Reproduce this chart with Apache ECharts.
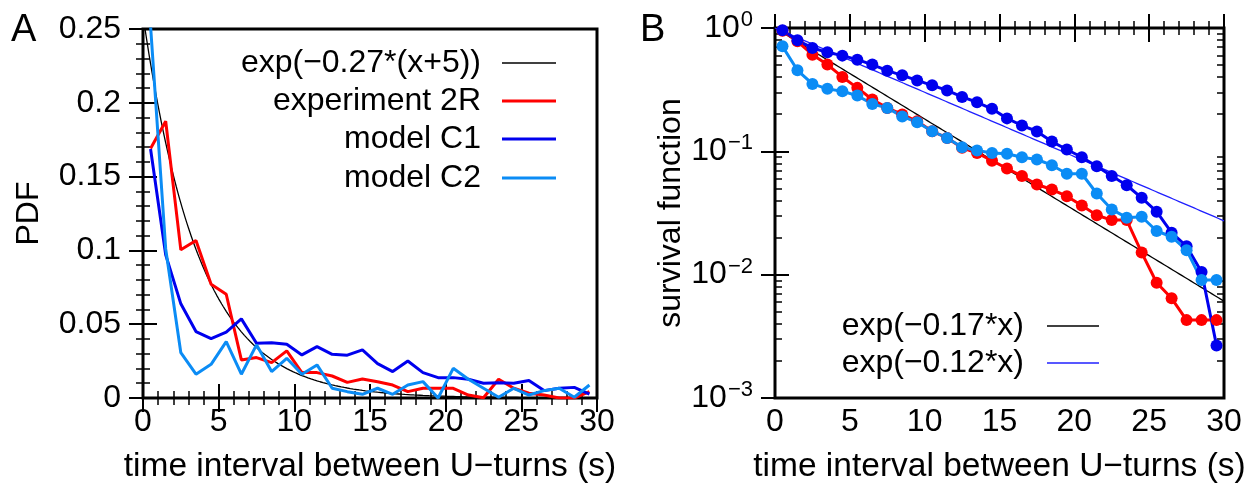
<!DOCTYPE html>
<html>
<head>
<meta charset="utf-8">
<script src="https://cdn.jsdelivr.net/npm/echarts@6/dist/echarts.min.js"></script>
<style>html,body{margin:0;padding:0;background:#fff}#c{width:1259px;height:489px}</style>
</head>
<body>
<div id="c"></div>
<script>
// ---- Panel A: PDF of time interval between U-turns ----
const binCentersA = [0.5,1.5,2.5,3.5,4.5,5.5,6.5,7.5,8.5,9.5,10.5,11.5,12.5,13.5,14.5,15.5,16.5,17.5,18.5,19.5,20.5,21.5,22.5,23.5,24.5,25.5,26.5,27.5,28.5,29.5];
const pdfExperiment2R = [0.169,0.1875,0.1004,0.1067,0.0771,0.0703,0.0258,0.0274,0.024,0.0319,0.0172,0.0172,0.0149,0.0106,0.0129,0.011,0.0088,0.0043,0.0066,0.0066,0.0066,0.002,0.0002,0.0127,0.0066,0.0032,0.002,0,0,0.0043];
const pdfModelC1 = [0.1687,0.097,0.0638,0.045,0.0402,0.0446,0.0536,0.0371,0.0375,0.0364,0.0292,0.0348,0.0296,0.029,0.0326,0.0233,0.0179,0.0251,0.0172,0.0138,0.0138,0.0127,0.00995,0.0104,0.00995,0.0118,0.005,0.0066,0.0072,0.0027];
const pdfModelC2 = [0.252,0.101,0.0307,0.0161,0.0228,0.0382,0.0161,0.036,0.0179,0.0269,0.0161,0.0224,0.0066,0.0043,0.0025,0.0066,0.0025,0.0088,0.0111,0,0.0201,0.0127,0.0066,0.0005,0.0066,0.002,0.005,0.0066,0.0005,0.0088];
const fitA = {rate: 0.27, shift: 5, label: 'exp(\u22120.27*(x+5))'};

// ---- Panel B: survival function ----
const survX = [0.5,1.5,2.5,3.5,4.5,5.5,6.5,7.5,8.5,9.5,10.5,11.5,12.5,13.5,14.5,15.5,16.5,17.5,18.5,19.5,20.5,21.5,22.5,23.5,24.5,25.5,26.5,27.5,28.5,29.5];
const survExperiment2R = [0.95,0.78,0.608,0.505,0.401,0.327,0.263,0.225,0.199,0.175,0.1455,0.1285,0.1067,0.097,0.084,0.0726,0.063,0.0538,0.049,0.0433,0.0364,0.0303,0.0277,0.0277,0.0151,0.0086,0.00643,0.00428,0.00428,0.00428];
const survModelC1 = [0.957,0.794,0.689,0.635,0.597,0.554,0.505,0.451,0.413,0.376,0.343,0.312,0.276,0.25,0.221,0.185,0.162,0.145,0.12,0.1035,0.0896,0.0758,0.063,0.0531,0.042,0.0324,0.0219,0.017,0.0105,0.00267];
const survModelC2 = [0.71,0.454,0.352,0.321,0.307,0.283,0.242,0.225,0.192,0.172,0.1455,0.1285,0.108,0.1015,0.097,0.0955,0.0896,0.0859,0.0772,0.0658,0.0658,0.0455,0.0338,0.029,0.0295,0.0226,0.0203,0.0158,0.00904,0.00904];
const fitB1 = {rate: 0.17, label: 'exp(\u22120.17*x)'};
const fitB2 = {rate: 0.12, label: 'exp(\u22120.12*x)'};
const logExponents = [-3, -2, -1, 0];

const FONT = 'Liberation Sans';
const FS = 32;
const RED = '#ff0000', DBLUE = '#0000ee', LBLUE = '#0b8cf5', FITBLUE = '#2020ff';

function pairs(xs, ys){ return xs.map((x,i)=>[x, ys[i]]); }
function curve(f){ const out=[]; for(let i=0;i<=300;i++){ const x=i*0.1; out.push([x, f(x)]); } return out; }

// minor log ticks in log10 space
const minorLogTicks = [];
logExponents.slice(0,-1).forEach(e=>{ for(let m=2;m<=9;m++) minorLogTicks.push(e + Math.log10(m)); });

const tickMajor = {show:true, inside:true, length:14, lineStyle:{color:'#000', width:2}};
const tickMinor = {show:true, splitNumber:5, length:7, lineStyle:{color:'#000', width:1.5}};
const lbl = {color:'#000', fontSize:FS, fontFamily:FONT};

function xAx(grid, pos, labels, name){
  return {
    type:'value', gridIndex:grid, position:pos, min:0, max:30, interval:5,
    axisLine:{show:false}, axisTick:tickMajor, minorTick:tickMinor, splitLine:{show:false}, minorSplitLine:{show:false},
    axisLabel: labels ? Object.assign({margin:8}, lbl) : {show:false},
    name: name || '', nameLocation:'middle', nameGap:52,
    nameTextStyle:{color:'#000', fontSize:33.5, fontFamily:FONT}
  };
}

const chart = echarts.init(document.getElementById('c'), null, {renderer:'canvas'});
chart.setOption({
  animation:false,
  backgroundColor:'#fff',
  grid:[
    {left:143, top:29, width:454, height:369, show:true, borderColor:'#000', borderWidth:3, backgroundColor:'transparent'},
    {left:775, top:28, width:449, height:370, show:true, borderColor:'#000', borderWidth:3, backgroundColor:'transparent'}
  ],
  xAxis:[
    xAx(0,'bottom',true,'time interval between U\u2212turns (s)'),
    xAx(0,'top',false),
    xAx(1,'bottom',true,'time interval between U\u2212turns (s)'),
    xAx(1,'top',false)
  ],
  yAxis:[
    {type:'value', gridIndex:0, position:'left', min:0, max:0.25, interval:0.05,
     axisLine:{show:false}, axisTick:tickMajor, minorTick:tickMinor, splitLine:{show:false},
     axisLabel:Object.assign({margin:22}, lbl),
     name:'PDF', nameLocation:'middle', nameGap:98, nameRotate:90,
     nameTextStyle:{color:'#000', fontSize:FS, fontFamily:FONT}},
    {type:'value', gridIndex:0, position:'right', min:0, max:0.25, interval:0.05,
     axisLine:{show:false}, axisTick:tickMajor, minorTick:tickMinor, splitLine:{show:false}, axisLabel:{show:false}},
    {type:'log', gridIndex:1, position:'left', min:0.001, max:1, logBase:10,
     axisLine:{show:false}, axisTick:tickMajor, splitLine:{show:false}, minorTick:{show:false},
     axisLabel:{margin:22, color:'#000', fontFamily:FONT,
       formatter:function(v){ const e=Math.round(Math.log10(v)); return '{b|10}{s|'+(e<0?'\u2212'+(-e):e)+'}'; },
       rich:{ b:{fontSize:FS, fontFamily:FONT, color:'#000'}, s:{fontSize:22, fontFamily:FONT, color:'#000', padding:[0,0,16,1]} }},
     name:'survival function', nameLocation:'middle', nameGap:88, nameRotate:90,
     nameTextStyle:{color:'#000', fontSize:FS, fontFamily:FONT}},
    {type:'log', gridIndex:1, position:'right', min:0.001, max:1, logBase:10,
     axisLine:{show:false}, axisTick:tickMajor, splitLine:{show:false}, minorTick:{show:false}, axisLabel:{show:false}},
    {type:'value', gridIndex:1, position:'left', min:-3, max:0,
     axisLine:{show:false}, splitLine:{show:false}, axisLabel:{show:false},
     axisTick:{show:true, inside:true, length:7, customValues:minorLogTicks, lineStyle:{color:'#000', width:1.5}}},
    {type:'value', gridIndex:1, position:'right', min:-3, max:0,
     axisLine:{show:false}, splitLine:{show:false}, axisLabel:{show:false},
     axisTick:{show:true, inside:true, length:7, customValues:minorLogTicks, lineStyle:{color:'#000', width:1.5}}}
  ],
  series:[
    {type:'line', xAxisIndex:0, yAxisIndex:0, showSymbol:false, symbol:'none', clip:true,
     lineStyle:{color:'#000', width:1.3}, data:curve(x=>Math.exp(-fitA.rate*(x+fitA.shift)))},
    {type:'line', xAxisIndex:0, yAxisIndex:0, symbol:'none', clip:true, lineStyle:{color:RED, width:3}, data:pairs(binCentersA, pdfExperiment2R)},
    {type:'line', xAxisIndex:0, yAxisIndex:0, symbol:'none', clip:true, lineStyle:{color:DBLUE, width:3}, data:pairs(binCentersA, pdfModelC1)},
    {type:'line', xAxisIndex:0, yAxisIndex:0, symbol:'none', clip:true, lineStyle:{color:LBLUE, width:3}, data:pairs(binCentersA, pdfModelC2)},

    {type:'line', xAxisIndex:2, yAxisIndex:2, symbol:'none', clip:true, lineStyle:{color:'#000', width:1.3}, data:curve(x=>Math.exp(-fitB1.rate*x))},
    {type:'line', xAxisIndex:2, yAxisIndex:2, symbol:'none', clip:true, lineStyle:{color:FITBLUE, width:1.3}, data:curve(x=>Math.exp(-fitB2.rate*x))},
    {type:'line', xAxisIndex:2, yAxisIndex:2, symbol:'circle', symbolSize:12, showSymbol:true, clip:true,
     lineStyle:{color:RED, width:3}, itemStyle:{color:RED}, data:pairs(survX, survExperiment2R)},
    {type:'line', xAxisIndex:2, yAxisIndex:2, symbol:'circle', symbolSize:12, showSymbol:true, clip:true,
     lineStyle:{color:DBLUE, width:3}, itemStyle:{color:DBLUE}, data:pairs(survX, survModelC1)},
    {type:'line', xAxisIndex:2, yAxisIndex:2, symbol:'circle', symbolSize:12, showSymbol:true, clip:true,
     lineStyle:{color:LBLUE, width:3}, itemStyle:{color:LBLUE}, data:pairs(survX, survModelC2)}
  ],
  graphic:[
    {type:'text', x:11, y:31, style:{text:'A', fontSize:38, fontFamily:FONT, fill:'#000', verticalAlign:'middle'}},
    {type:'text', x:640, y:31, style:{text:'B', fontSize:38, fontFamily:FONT, fill:'#000', verticalAlign:'middle'}},
    // legend A
    {type:'text', x:481, y:63, style:{text:fitA.label, fontSize:FS, fontFamily:FONT, fill:'#000', align:'right', verticalAlign:'middle'}},
    {type:'text', x:481, y:101, style:{text:'experiment 2R', fontSize:FS, fontFamily:FONT, fill:'#000', align:'right', verticalAlign:'middle'}},
    {type:'text', x:481, y:139, style:{text:'model C1', fontSize:FS, fontFamily:FONT, fill:'#000', align:'right', verticalAlign:'middle'}},
    {type:'text', x:481, y:178, style:{text:'model C2', fontSize:FS, fontFamily:FONT, fill:'#000', align:'right', verticalAlign:'middle'}},
    {type:'line', shape:{x1:502, y1:63, x2:556, y2:63}, style:{stroke:'#000', lineWidth:1.3}},
    {type:'line', shape:{x1:502, y1:101, x2:556, y2:101}, style:{stroke:RED, lineWidth:3}},
    {type:'line', shape:{x1:502, y1:139, x2:556, y2:139}, style:{stroke:DBLUE, lineWidth:3}},
    {type:'line', shape:{x1:502, y1:178, x2:556, y2:178}, style:{stroke:LBLUE, lineWidth:3}},
    // legend B
    {type:'text', x:1024, y:326, style:{text:fitB1.label, fontSize:FS, fontFamily:FONT, fill:'#000', align:'right', verticalAlign:'middle'}},
    {type:'text', x:1024, y:363, style:{text:fitB2.label, fontSize:FS, fontFamily:FONT, fill:'#000', align:'right', verticalAlign:'middle'}},
    {type:'line', shape:{x1:1047, y1:326, x2:1099, y2:326}, style:{stroke:'#000', lineWidth:1.3}},
    {type:'line', shape:{x1:1047, y1:363, x2:1099, y2:363}, style:{stroke:FITBLUE, lineWidth:1.5}}
  ]
});
</script>
</body>
</html>
